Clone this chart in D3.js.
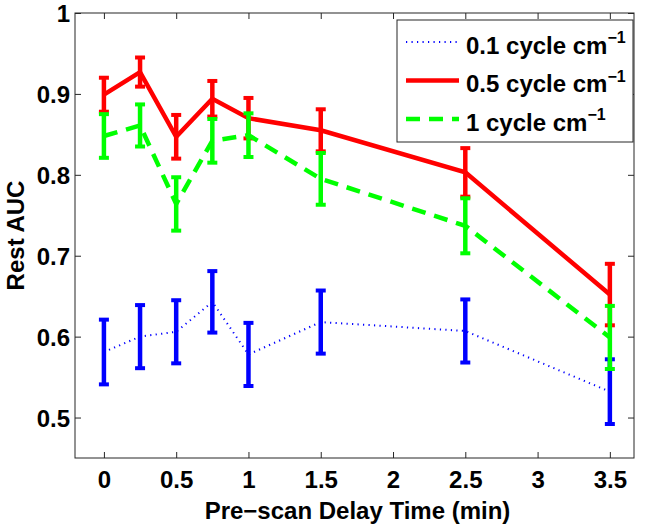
<!DOCTYPE html>
<html>
<head>
<meta charset="utf-8">
<script src="https://cdn.jsdelivr.net/npm/d3@7/dist/d3.min.js"></script>
<style>
  html, body { margin: 0; padding: 0; background: #fff; }
  svg { display: block; }
  text { font-family: "Liberation Sans", Arial, Helvetica, sans-serif; font-weight: bold; fill: #000; }
</style>
</head>
<body>
<svg id="chart" width="645" height="528"></svg>
<script>
// ---- data ----
const delays = [0, 0.25, 0.5, 0.75, 1, 1.5, 2.5, 3.5];
const blueMean = [0.581, 0.600, 0.606, 0.643, 0.578, 0.618, 0.607, 0.532];
const blueErr  = [0.040, 0.039, 0.039, 0.038, 0.039, 0.039, 0.039, 0.040];
const redMean  = [0.899, 0.927, 0.847, 0.894, 0.870, 0.855, 0.803, 0.652];
const redErr   = [0.021, 0.018, 0.027, 0.022, 0.025, 0.026, 0.030, 0.038];
const greenMean = [0.848, 0.861, 0.764, 0.842, 0.849, 0.795, 0.737, 0.599];
const greenErr  = [0.027, 0.026, 0.033, 0.027, 0.027, 0.032, 0.034, 0.039];
const seriesNames = ["0.1 cycle cm", "0.5 cycle cm", "1 cycle cm"];
const xTicks = [0, 0.5, 1, 1.5, 2, 2.5, 3, 3.5];
const yTicks = [0.5, 0.6, 0.7, 0.8, 0.9, 1];
const xLabel = "Pre\u2212scan Delay Time (min)";
const yLabel = "Rest AUC";

// ---- layout ----
const svg = d3.select("#chart");
const L = 75, R = 634, T = 13, B = 458;
const x = d3.scaleLinear().domain([-0.2, 3.667]).range([L, R]);
const y = d3.scaleLinear().domain([0.45, 1]).range([B, T]);
const axisColor = "#262626";

const series = [
  { name: seriesNames[0], mean: blueMean, err: blueErr, color: "#0000ff", width: 2, dash: "1.2,4.3" },
  { name: seriesNames[1], mean: redMean, err: redErr, color: "#ff0000", width: 4.5, dash: null },
  { name: seriesNames[2], mean: greenMean, err: greenErr, color: "#00ff00", width: 4.5, dash: "14,9" }
];

// axes box
svg.append("rect").attr("x", L).attr("y", T).attr("width", R - L).attr("height", B - T)
  .attr("fill", "none").attr("stroke", axisColor).attr("stroke-width", 1);

const tickLen = 6;
const gx = svg.append("g").attr("transform", `translate(0,${B})`)
  .call(d3.axisBottom(x).tickValues(xTicks).tickSize(-tickLen).tickPadding(14).tickFormat(d3.format("")));
const gxTop = svg.append("g").attr("transform", `translate(0,${T})`)
  .call(d3.axisTop(x).tickValues(xTicks).tickSize(-tickLen).tickFormat(""));
const gy = svg.append("g").attr("transform", `translate(${L},0)`)
  .call(d3.axisLeft(y).tickValues(yTicks).tickSize(-tickLen).tickPadding(5).tickFormat(d3.format("")));
const gyR = svg.append("g").attr("transform", `translate(${R},0)`)
  .call(d3.axisRight(y).tickValues(yTicks).tickSize(-tickLen).tickFormat(""));
[gx, gxTop, gy, gyR].forEach(g => {
  g.select(".domain").remove();
  g.selectAll(".tick line").attr("stroke", axisColor).attr("stroke-width", 1);
});
gx.selectAll(".tick text").attr("font-size", 24).attr("font-family", null).attr("fill", "#000")
  .attr("y", 30).attr("dy", null);
gy.selectAll(".tick text").attr("font-size", 24).attr("font-family", null).attr("fill", "#000")
  .attr("dy", "0.36em");

// axis labels
svg.append("text").attr("x", (L + R) / 2 + 3).attr("y", 519).attr("text-anchor", "middle")
  .attr("font-size", 24).text(xLabel);
svg.append("text").attr("transform", `translate(24,${(T + B) / 2}) rotate(-90)`)
  .attr("text-anchor", "middle").attr("font-size", 24).text(yLabel);

// lines + error bars
const line = d3.line().x(d => x(d[0])).y(d => y(d[1]));
const capW = 10;
series.forEach(s => {
  const pts = delays.map((d, i) => [d, s.mean[i]]);
  const g = svg.append("g");
  g.append("path").datum(pts).attr("d", line).attr("fill", "none")
    .attr("stroke", s.color).attr("stroke-width", s.width)
    .attr("stroke-dasharray", s.dash).attr("stroke-linejoin", "miter");
  delays.forEach((d, i) => {
    const cx = x(d), y1 = y(s.mean[i] + s.err[i]), y2 = y(s.mean[i] - s.err[i]);
    g.append("line").attr("x1", cx).attr("x2", cx).attr("y1", y1).attr("y2", y2)
      .attr("stroke", s.color).attr("stroke-width", 4.5);
    [y1, y2].forEach(yy => {
      g.append("line").attr("x1", cx - capW / 2).attr("x2", cx + capW / 2)
        .attr("y1", yy).attr("y2", yy).attr("stroke", s.color).attr("stroke-width", 4);
    });
  });
});

// legend
const lg = svg.append("g");
lg.append("rect").attr("x", 397).attr("y", 20).attr("width", 236).attr("height", 122)
  .attr("fill", "#fff").attr("stroke", axisColor).attr("stroke-width", 1);
series.forEach((s, i) => {
  const ly = 42 + i * 38.5;
  lg.append("line").attr("x1", 406).attr("x2", 459).attr("y1", ly).attr("y2", ly)
    .attr("stroke", s.color).attr("stroke-width", s.width).attr("stroke-dasharray", s.dash);
  const t = lg.append("text").attr("x", 466).attr("y", ly + 11.5).attr("font-size", 24);
  t.append("tspan").text(s.name);
  t.append("tspan").attr("font-size", 16).attr("dy", -10.5).text("\u22121");
});
</script>
</body>
</html>
